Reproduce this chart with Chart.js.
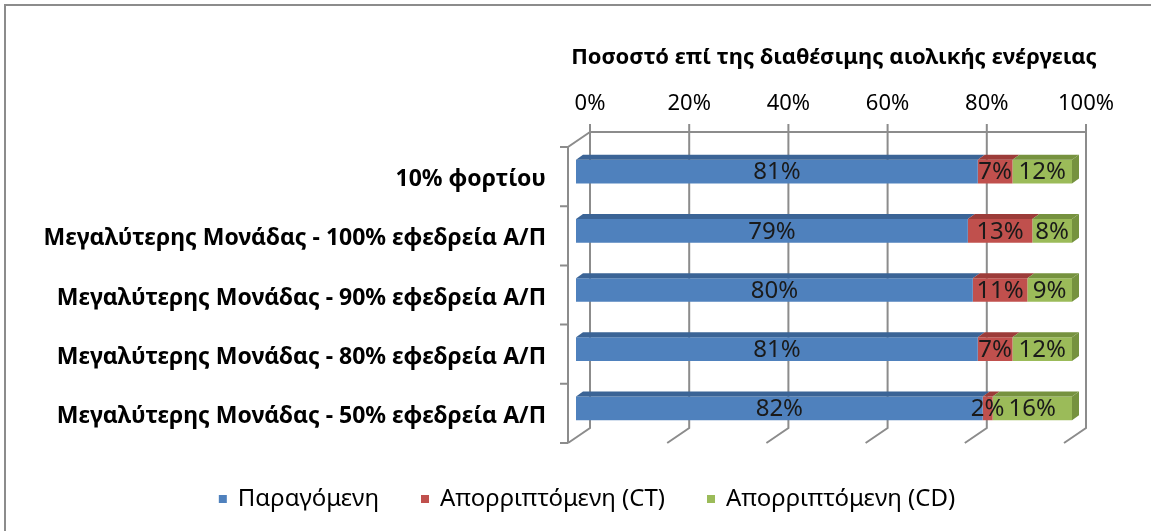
<!DOCTYPE html>
<html>
<head>
<meta charset="utf-8">
<script src="https://cdn.jsdelivr.net/npm/chart.js@4.4.0/dist/chart.umd.min.js"></script>
<style>
  html, body { margin: 0; padding: 0; background: #fff; overflow: hidden; }
  #wrap { position: relative; width: 1151px; height: 531px; }
  #frame { position: absolute; left: 4px; top: 4px; width: 1300px; height: 700px; border: 2px solid #8c8c8c; pointer-events: none; }
  canvas { position: absolute; left: 0; top: 0; }
</style>
</head>
<body>
<div id="wrap">
  <canvas id="windChart" width="1151" height="531"></canvas>
  <div id="frame"></div>
</div>
<script>
const chartTitle = 'Ποσοστό επί της διαθέσιμης αιολικής ενέργειας';
const categories = [
  '10% φορτίου',
  'Μεγαλύτερης Μονάδας - 100% εφεδρεία Α/Π',
  'Μεγαλύτερης Μονάδας - 90% εφεδρεία Α/Π',
  'Μεγαλύτερης Μονάδας - 80% εφεδρεία Α/Π',
  'Μεγαλύτερης Μονάδας - 50% εφεδρεία Α/Π'
];
const seriesNames = ['Παραγόμενη', 'Απορριπτόμενη (CT)', 'Απορριπτόμενη (CD)'];
const produced = [81, 79, 80, 81, 82];
const curtailedCT = [7, 13, 11, 7, 2];
const curtailedCD = [12, 8, 9, 12, 16];
const tickLabels = ['0%', '20%', '40%', '60%', '80%', '100%'];

// front / top-side colours of each series
const frontColors = ['#4F81BD', '#C0504D', '#9BBB59'];
const faceColors = ['#3B6496', '#9C3C39', '#76923F'];

const FONT = "'Noto Sans', 'DejaVu Sans', sans-serif";
const WALL_DX = 22, WALL_DY = 15;      // depth of the floor / side wall
const BAR_SHIFT_X = -14, BAR_SHIFT_Y = -5;
const BAR_DX = 7, BAR_DY = -5;          // depth of each bar

const fake3d = {
  id: 'fake3d',
  beforeDatasetsDraw(chart) {
    const { ctx, chartArea: a, scales: { x } } = chart;
    const backTop = a.top - WALL_DY;
    const backBottom = a.bottom - WALL_DY;
    const x0 = x.getPixelForValue(0);
    const x1 = x.getPixelForValue(100);
    const frontX = x0 - WALL_DX;

    ctx.save();
    ctx.strokeStyle = '#8c8c8c';
    ctx.lineWidth = 2;
    ctx.beginPath();
    // back wall grid
    x.ticks.forEach(t => {
      const px = x.getPixelForValue(t.value);
      ctx.moveTo(px, backTop - 8);
      ctx.lineTo(px, backBottom);
      ctx.lineTo(px - WALL_DX, a.bottom);
    });
    ctx.moveTo(x0, backTop);
    ctx.lineTo(x1, backTop);
    // side wall edge and front axis
    ctx.moveTo(x0, backTop);
    ctx.lineTo(frontX, a.top);
    ctx.lineTo(frontX, a.bottom);
    const band = (a.bottom - a.top) / categories.length;
    for (let i = 0; i <= categories.length; i++) {
      const py = a.top + i * band;
      ctx.moveTo(frontX - 8, py);
      ctx.lineTo(frontX, py);
    }
    ctx.stroke();
    ctx.restore();

    ctx.save();
    ctx.translate(BAR_SHIFT_X, BAR_SHIFT_Y);
  },
  afterDatasetsDraw(chart) {
    const { ctx } = chart;
    const last = chart.data.datasets.length - 1;
    chart.data.datasets.forEach((ds, di) => {
      const meta = chart.getDatasetMeta(di);
      meta.data.forEach(bar => {
        const top = bar.y - bar.height / 2;
        const bottom = bar.y + bar.height / 2;
        ctx.fillStyle = faceColors[di];
        ctx.beginPath();
        ctx.moveTo(bar.base, top);
        ctx.lineTo(bar.base + BAR_DX, top + BAR_DY);
        ctx.lineTo(bar.x + BAR_DX, top + BAR_DY);
        ctx.lineTo(bar.x, top);
        ctx.closePath();
        ctx.fill();
        if (di === last) {
          ctx.beginPath();
          ctx.moveTo(bar.x, top);
          ctx.lineTo(bar.x + BAR_DX, top + BAR_DY);
          ctx.lineTo(bar.x + BAR_DX, bottom + BAR_DY);
          ctx.lineTo(bar.x, bottom);
          ctx.closePath();
          ctx.fill();
        }
      });
    });

    // value labels
    ctx.fillStyle = '#1a1a1a';
    ctx.font = '24px ' + FONT;
    ctx.textAlign = 'center';
    ctx.textBaseline = 'middle';
    chart.data.datasets.forEach((ds, di) => {
      chart.getDatasetMeta(di).data.forEach((bar, i) => {
        ctx.fillText(ds.data[i] + '%', (bar.base + bar.x) / 2, bar.y + 1);
      });
    });
    ctx.restore();
  },
  afterDraw(chart) {
    const { ctx, chartArea: a } = chart;
    ctx.save();
    ctx.fillStyle = '#000';
    ctx.textBaseline = 'middle';

    ctx.font = 'bold 22px ' + FONT;
    ctx.textAlign = 'center';
    ctx.fillText(chartTitle, (a.left + a.right) / 2 - 4, 58);

    // legend row under the plot
    ctx.font = '24px ' + FONT;
    ctx.textAlign = 'left';
    const box = 8, boxGap = 11, itemGap = 42, legendY = 499;
    const items = chart.data.datasets.map(ds => ({
      text: ds.label, color: ds.backgroundColor, w: ctx.measureText(ds.label).width
    }));
    const total = items.reduce((s, it) => s + box + boxGap + it.w, 0) + itemGap * (items.length - 1);
    let cx = 587 - total / 2;
    items.forEach(it => {
      ctx.fillStyle = it.color;
      ctx.fillRect(cx, legendY - box / 2, box, box);
      ctx.fillStyle = '#000';
      ctx.fillText(it.text, cx + box + boxGap, legendY);
      cx += box + boxGap + it.w + itemGap;
    });
    ctx.restore();
  }
};

new Chart(document.getElementById('windChart'), {
  type: 'bar',
  data: {
    labels: categories,
    datasets: [
      { label: seriesNames[0], data: produced, backgroundColor: frontColors[0] },
      { label: seriesNames[1], data: curtailedCT, backgroundColor: frontColors[1] },
      { label: seriesNames[2], data: curtailedCD, backgroundColor: frontColors[2] }
    ]
  },
  options: {
    indexAxis: 'y',
    responsive: false,
    animation: false,
    events: [],
    layout: { padding: { left: 0, right: 65, top: 0, bottom: 88 } },
    datasets: { bar: { barPercentage: 0.4, categoryPercentage: 1 } },
    scales: {
      x: {
        position: 'top',
        stacked: true,
        min: 0,
        max: 100,
        grid: { display: false },
        border: { display: false },
        ticks: {
          stepSize: 20,
          padding: 22,
          color: '#000',
          font: { family: FONT, size: 22 },
          callback: (v, i) => tickLabels[i]
        },
        afterFit: s => { s.height = 147; }
      },
      y: {
        stacked: true,
        grid: { display: false },
        border: { display: false },
        ticks: {
          padding: 36,
          labelOffset: 3,
          color: '#000',
          font: { family: FONT, size: 23, weight: 'bold' }
        },
        afterFit: s => { s.width = 590; }
      }
    },
    plugins: {
      legend: { display: false },
      tooltip: { enabled: false },
      title: { display: false }
    }
  },
  plugins: [fake3d]
});
</script>
</body>
</html>
